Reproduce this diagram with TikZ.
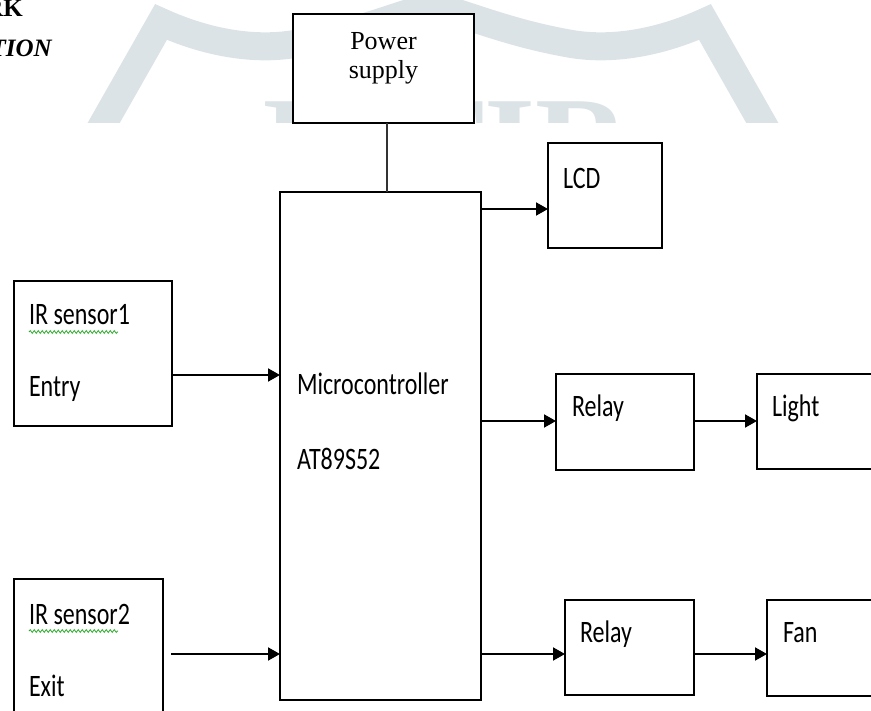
\documentclass[tikz,border=0pt]{standalone}
\usepackage{fontspec}
\setmainfont{Liberation Serif}
\newfontfamily\calib{Carlito}
\usetikzlibrary{arrows.meta,decorations.pathmorphing}
\definecolor{wm}{RGB}{220,227,231}
\definecolor{squig}{RGB}{40,170,40}
\newcommand\cbtext[1]{\scalebox{1}[1.3]{\calib\fontsize{24}{24}\selectfont #1}}
\begin{document}
\begin{tikzpicture}[x=1pt,y=-1pt,
  blk/.style={draw=black,line width=1.8pt,fill=white,inner sep=0pt,outer sep=0pt,anchor=north west,rectangle},
  lbl/.style={anchor=base west,inner sep=0pt,outer sep=0pt},
  arr/.style={line width=1.9pt,-{Triangle[length=12pt,width=13pt]}},
  wire/.style={line width=1.3pt,draw=black!80}]
\useasboundingbox (0,0) rectangle (871,711);
% watermark (only visible above the diagram)
\begin{scope}
\clip (0,0) rectangle (871,123);
\draw[wm,line width=28pt,line join=miter]
  (94,140) -- (161,22) .. controls (205,42) and (255,52) .. (300,43)
  .. controls (360,32) and (400,14) .. (433,6)
  .. controls (466,14) and (506,32) .. (566,43)
  .. controls (611,52) and (661,42) .. (705,22) -- (772,140);
\node[anchor=base west,inner sep=0pt,text=wm,font=\bfseries\fontsize{131}{131}\selectfont] (wmtext) at (244,188) {JETIR};
\end{scope}
\clip (0,0) rectangle (871,711);
% cut-off heading text
\node[anchor=base east,inner sep=0pt,font=\bfseries\fontsize{25}{25}\selectfont] (hd1) at (23,17) {RK};
\node[anchor=base east,inner sep=0pt,font=\bfseries\itshape\fontsize{25}{25}\selectfont] (hd2) at (52,57) {TION};
% boxes
\node[blk,minimum width=181pt,minimum height=109pt] (power) at (293,14) {};
\node[blk,minimum width=201pt,minimum height=508pt] (micro) at (280,192) {};
\node[blk,minimum width=158pt,minimum height=145pt] (ir1) at (14,281) {};
\node[blk,minimum width=149pt,minimum height=160pt] (ir2) at (14,579) {};
\node[blk,minimum width=114pt,minimum height=105pt] (lcd) at (548,143) {};
\node[blk,minimum width=138pt,minimum height=96pt] (relay1) at (556,374) {};
\node[blk,minimum width=150pt,minimum height=95pt] (light) at (757,374) {};
\node[blk,minimum width=129pt,minimum height=95pt] (relay2) at (565,600) {};
\node[blk,minimum width=150pt,minimum height=96pt] (fan) at (767,600) {};
% texts
\node[anchor=base,inner sep=0pt,font=\fontsize{26}{26}\selectfont] (pw1) at (383.5,50) {Power};
\node[anchor=base,inner sep=0pt,font=\fontsize{26}{26}\selectfont] (pw2) at (383.5,79) {supply};
\node[lbl] (t1) at (29,325) {\cbtext{IR sensor1}};
\node[lbl] (t2) at (29,397) {\cbtext{Entry}};
\node[lbl] (t3) at (29,624) {\cbtext{IR sensor2}};
\node[lbl] (t4) at (29,696) {\cbtext{Exit}};
\node[lbl] (t5) at (297,395) {\cbtext{Microcontroller}};
\node[lbl] (t6) at (297,470) {\cbtext{AT89S52}};
\node[lbl] (t7) at (563,189) {\cbtext{LCD}};
\node[lbl] (t8) at (572,417) {\cbtext{Relay}};
\node[lbl] (t9) at (772,417) {\cbtext{Light}};
\node[lbl] (t10) at (580,642) {\cbtext{Relay}};
\node[lbl] (t11) at (783,642) {\cbtext{Fan}};
% spell-check squiggles
\coordinate (sq1a) at (29,332); \coordinate (sq1b) at (118,332);
\coordinate (sq2a) at (29,631); \coordinate (sq2b) at (118,631);
\draw[squig,line width=0.8pt,decorate,decoration={snake,segment length=4pt,amplitude=1.4pt}] (sq1a) -- (sq1b);
\draw[squig,line width=0.8pt,decorate,decoration={snake,segment length=4pt,amplitude=1.4pt}] (sq2a) -- (sq2b);
% connectors
\coordinate (px) at (387,0);
\coordinate (y1) at (0,375);
\coordinate (s2) at (171,654);
\coordinate (ylcd) at (0,209);
\coordinate (yrl) at (0,421);
\coordinate (yfn) at (0,654);
\draw[wire] (power.south -| px) -- (micro.north -| px);
\draw[arr] (ir1.east |- y1) -- (micro.west |- y1);
\draw[arr] (s2) -- (micro.west |- s2);
\draw[arr] (micro.east |- ylcd) -- (lcd.west |- ylcd);
\draw[arr] (micro.east |- yrl) -- (relay1.west |- yrl);
\draw[arr] (relay1.east |- yrl) -- (light.west |- yrl);
\draw[arr] (micro.east |- yfn) -- (relay2.west |- yfn);
\draw[arr] (relay2.east |- yfn) -- (fan.west |- yfn);
\end{tikzpicture}
\end{document}
